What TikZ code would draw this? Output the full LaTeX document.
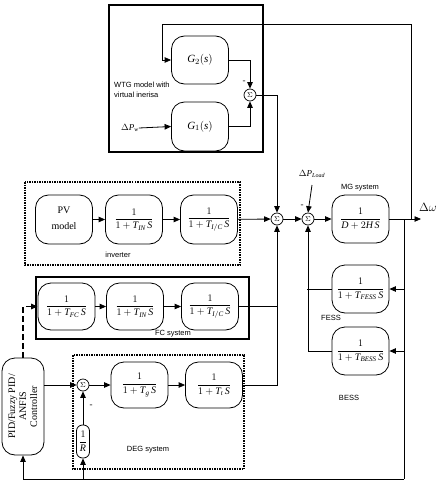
\documentclass[tikz,border=0pt]{standalone}
\usepackage{amsmath}
\usepackage{fontspec}
\setmainfont{Liberation Serif}
\setsansfont{Liberation Sans}
\usetikzlibrary{arrows.meta}
\newcommand{\vi}[1]{\mathit{#1}}
\begin{document}
\begin{tikzpicture}[x=1pt,y=-1pt,
  blk/.style={draw, rounded corners=13pt, line width=0.8pt, minimum width=57pt, minimum height=48pt, inner sep=0pt, font=\fontsize{10}{11}\selectfont},
  sumc/.style={draw, circle, inner sep=0pt, minimum size=12pt, line width=0.7pt, font=\fontsize{7}{7}\selectfont},
  arr/.style={-{Triangle[length=6.5pt,width=5.5pt]}, line width=0.8pt},
  ln/.style={line width=0.8pt},
  lbl/.style={font=\sffamily\fontsize{7.5}{9}\selectfont, inner sep=0pt},
  ctr/.style={font=\fontsize{9}{10}\selectfont, inner sep=0pt}]
\path[use as bounding box] (0,0) rectangle (440,482);

% containers
\draw[line width=1.5pt] (109,5) rectangle (263,152);
\draw[line width=1.5pt, densely dotted] (25,182) rectangle (240,265);
\draw[line width=1.5pt] (36,277) rectangle (249,339);
\draw[line width=1.5pt, densely dotted] (73,355) rectangle (244,469);

% WTG
\node[blk, minimum height=48pt, font=\fontsize{11}{12}\selectfont] (g2) at (200,60) {$\vi{G}_2(\vi{s})$};
\node[blk, minimum height=49pt, font=\fontsize{11}{12}\selectfont] (g1) at (200,126.5) {$\vi{G}_1(\vi{s})$};
\node[sumc] (s0) at (250,95) {$\Sigma$};
\node[lbl, align=left, anchor=west] (wtgl) at (114,90) {WTG model with\\[1pt]virtual inerisa};
\node[ctr, anchor=east] (dpw) at (139,128) {$\Delta \vi{P}_{\vi{w}}$};
\coordinate (fbtop) at (162,24);
\coordinate (fbright) at (411,24);

% PV row
\node[blk, minimum height=49pt] (pv) at (64,219.5) {\begin{tabular}{c}PV\\[5pt]model\end{tabular}};
\node[blk, minimum height=49pt] (inv1) at (134,219.5) {$\dfrac{1}{1+\vi{T}_{\vi{IN}}\,\vi{S}}$};
\node[blk, minimum height=49pt] (inv2) at (209,219.5) {$\dfrac{1}{1+\vi{T}_{\vi{I/C}}\,\vi{S}}$};
\node[lbl] (invl) at (118,255) {inverter};
\node[sumc] (s1) at (277,219) {$\Sigma$};
\node[sumc] (s2) at (308,219) {$\Sigma$};
\node[ctr] (dpl) at (312,174) {$\Delta \vi{P}_{\vi{Load}}$};
\node[ctr] (m2) at (302,206) {-};

% FC row
\node[blk, minimum height=47pt] (fc1) at (66.5,306.5) {$\dfrac{1}{1+\vi{T}_{\vi{FC}}\,\vi{S}}$};
\node[blk, minimum height=47pt] (fc2) at (135,306.5) {$\dfrac{1}{1+\vi{T}_{\vi{IN}}\,\vi{S}}$};
\node[blk, minimum height=47pt] (fc3) at (210,306.5) {$\dfrac{1}{1+\vi{T}_{\vi{I/C}}\,\vi{S}}$};
\node[lbl] (fcl) at (173,334) {FC system};

% DEG
\node[draw, rounded corners=13pt, line width=0.8pt, minimum width=42pt, minimum height=97pt, inner sep=0pt] (ctrl) at (23,406.5) {};
\node[rotate=90, font=\fontsize{10}{11}\selectfont, align=center] at (ctrl.center) {PID/Fuzzy PID/\\ANFIS\\Controller};
\node[sumc] (s3) at (83,385) {$\Sigma$};
\node[blk, minimum height=46pt] (dg1) at (139.5,385) {$\dfrac{1}{1+\vi{T}_{\vi{g}}\,\vi{S}}$};
\node[blk, minimum height=46pt] (dg2) at (214,385) {$\dfrac{1}{1+\vi{T}_{\vi{t}}\,\vi{S}}$};
\node[draw, rounded corners=6pt, line width=0.8pt, minimum width=13pt, minimum height=33pt, inner sep=0pt, font=\fontsize{10}{11}\selectfont] (rr) at (83,441.5) {$\dfrac{1}{\vi{R}}$};
\node[ctr] (m3) at (91,406) {-};
\node[lbl] (degl) at (148,450) {DEG system};

% MG / storage
\node[blk, minimum height=48pt] (mg) at (360.5,219) {$\dfrac{1}{\vi{D}+2\vi{H}\,\vi{S}}$};
\node[lbl] (mgl) at (360,188) {MG system};
\node[blk, minimum height=48pt] (fess) at (360.5,289) {$\dfrac{1}{1+\vi{T}_{\vi{FESS}}\,\vi{S}}$};
\node[blk, minimum height=48pt] (bess) at (360.5,351) {$\dfrac{1}{1+\vi{T}_{\vi{BESS}}\,\vi{S}}$};
\node[lbl] (fessl) at (331,318) {FESS};
\node[lbl] (bessl) at (349,398) {BESS};
\node[ctr, anchor=west, font=\fontsize{12}{13}\selectfont] (dw) at (419,207) {$\Delta\omega$};
\coordinate (wend) at (421,219);
\coordinate (tap) at (404,219);
\coordinate (bot) at (404,479);

% WTG connections
\draw[arr] (fbright) -- (fbtop) |- (g2.west);
\draw[ln] (fbright) -- (fbright |- wend);
\draw[arr] (dpw.east) -- (g1.west);
\draw[arr] (g2.east) -| (s0.north);
\draw[arr] (g1.east) -| (s0.south);
\node[ctr] at (244,82) {-};
\draw[arr] (s0.east) -| (s1.north);

% PV connections
\draw[arr] (pv) -- (inv1);
\draw[arr] (inv1) -- (inv2);
\draw[arr] (inv2) -- (s1);
\draw[arr] (s1) -- (s2);
\draw[arr] (dpl.south |- 0,185) -- (s2.north);
\draw[arr] (s2) -- (mg);
\draw[arr] (mg.east) -- (wend);

% FC
\draw[arr] (fc1) -- (fc2);
\draw[arr] (fc2) -- (fc3);
\draw[ln] (fc3.east) -- (fc3.east -| s1);
\draw[arr] (dg2.east) -| (s1.south);
\draw[arr, dash pattern=on 6pt off 3pt, line width=1.5pt] (ctrl.north) |- (fc1.west);

% DEG
\draw[arr] (ctrl.east |- s3) -- (s3.west);
\draw[arr] (s3) -- (dg1);
\draw[arr] (dg1) -- (dg2);
\draw[arr] (rr.north) -- (s3.south);

% storage
\draw[ln] (tap) -- (bot);
\draw[arr] (tap |- fess) -- (fess.east);
\draw[arr] (tap |- bess) -- (bess.east);
\draw[ln] (fess.west) -- (307,289);
\draw[arr] (bess.west) -| (s2.south);

% bottom feedback
\draw[arr] (bot) -| (ctrl.south);
\draw[arr] (rr.south |- bot) -- (rr.south);
\end{tikzpicture}
\end{document}
